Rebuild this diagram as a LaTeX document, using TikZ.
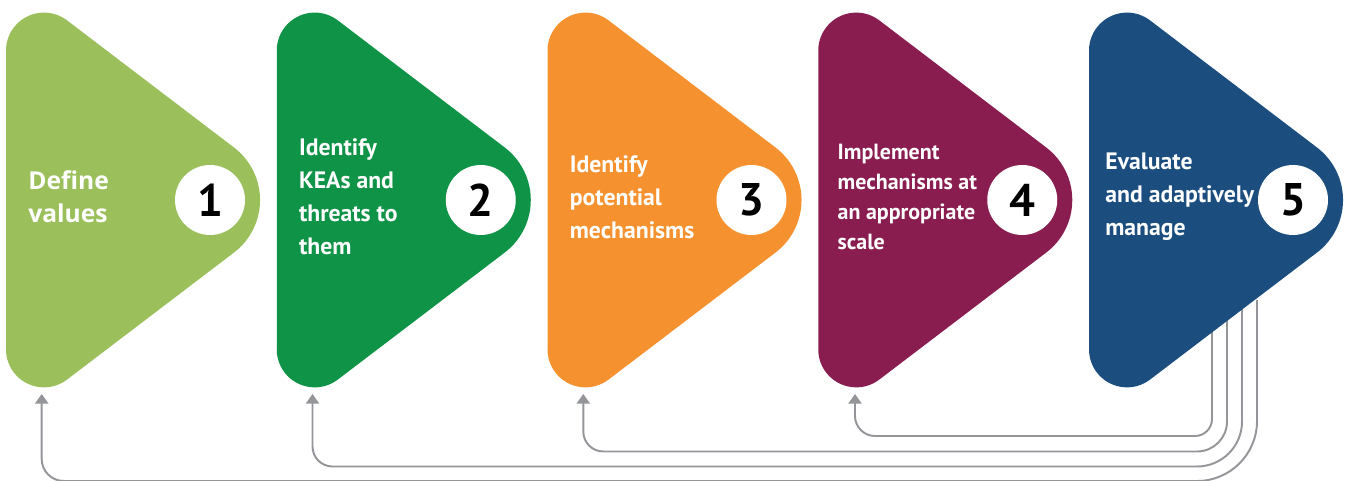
\documentclass[tikz,border=0pt]{standalone}
\usepackage{fontspec}
\setmainfont{PT Sans}
\newfontfamily\widesans{Open Sans}
\usepackage{xcolor}
\usetikzlibrary{arrows.meta}

\definecolor{stepA}{HTML}{9BC05B}
\definecolor{stepB}{HTML}{0F9346}
\definecolor{stepC}{HTML}{F5922F}
\definecolor{stepD}{HTML}{8A1D4F}
\definecolor{stepE}{HTML}{1B4E7E}
\definecolor{linkgray}{HTML}{939598}

\begin{document}
\begin{tikzpicture}[
    x=0.02cm, y=0.02cm,
    steptext/.style={anchor=west, align=left, text=white, inner sep=0pt},
    stepnum/.style={circle, fill=white, minimum size=1.4cm, inner sep=0pt, font=\bfseries\fontsize{26}{26}\selectfont},
    link/.style={draw=linkgray, line width=1.1pt, -{Triangle[width=7.5pt,length=5.5pt]}},
    ]
    \useasboundingbox (0,0) rectangle (1351,480);

    % feedback loops start under step 5
    \coordinate (s4) at (1212,180);
    \coordinate (s3) at (1227,180);
    \coordinate (s2) at (1242,180);
    \coordinate (s1) at (1257,180);
    \coordinate (a1) at (41.7,86);
    \coordinate (a2) at (312.5,86);
    \coordinate (a3) at (583.3,86);
    \coordinate (a4) at (855,86);
    \coordinate (b4) at (0,44);
    \coordinate (b3) at (0,28.5);
    \coordinate (b2) at (0,13.5);
    \coordinate (b1) at (0,-1);
    \draw[link] (s4) [rounded corners=0.34cm] -- (s4 |- b4) [rounded corners=0.4cm] -- (a4 |- b4) -- (a4);
    \draw[link] (s3) [rounded corners=0.6cm] -- (s3 |- b3) [rounded corners=0.4cm] -- (a3 |- b3) -- (a3);
    \draw[link] (s2) [rounded corners=0.9cm] -- (s2 |- b2) [rounded corners=0.4cm] -- (a2 |- b2) -- (a2);
    \draw[link] (s1) [rounded corners=1.2cm] -- (s1 |- b1) [rounded corners=0.44cm] -- (a1 |- b1) -- (a1);

    % the five steps
    \foreach \k/\col/\dx/\ff/\fs/\ls/\lbl in {
        1/stepA/22/\widesans/14/18.7/{Define\\values},
        2/stepB/22/\relax/13.5/18.7/{Identify\\KEAs and\\threats to\\them},
        3/stepC/22/\relax/13.5/18.7/{Identify\\potential\\mechanisms},
        4/stepD/19/\relax/12.5/17/{Implement\\mechanisms at\\an appropriate\\scale},
        5/stepE/16/\relax/13.5/18.7/{Evaluate\\and adaptively\\manage}} {
        \fill[\col, shift={(6+270.75*\k-270.75,280)}]
            (0,-149.4) -- (0,149.4) arc[start angle=180, end angle=52.73, radius=38]
            -- (228,52.5) arc[start angle=52.73, end angle=-52.73, radius=66]
            -- (61,-179.6) arc[start angle=-52.73, end angle=-180, radius=38] -- cycle;
        \node[steptext, font=\ff\bfseries\fontsize{\fs}{\ls}\selectfont] (t\k) at (6+270.75*\k-270.75+\dx,283) {\lbl};
        \node[stepnum] (n\k) at (6+270.75*\k-270.75+204,280) {\k};
    }
\end{tikzpicture}
\end{document}
